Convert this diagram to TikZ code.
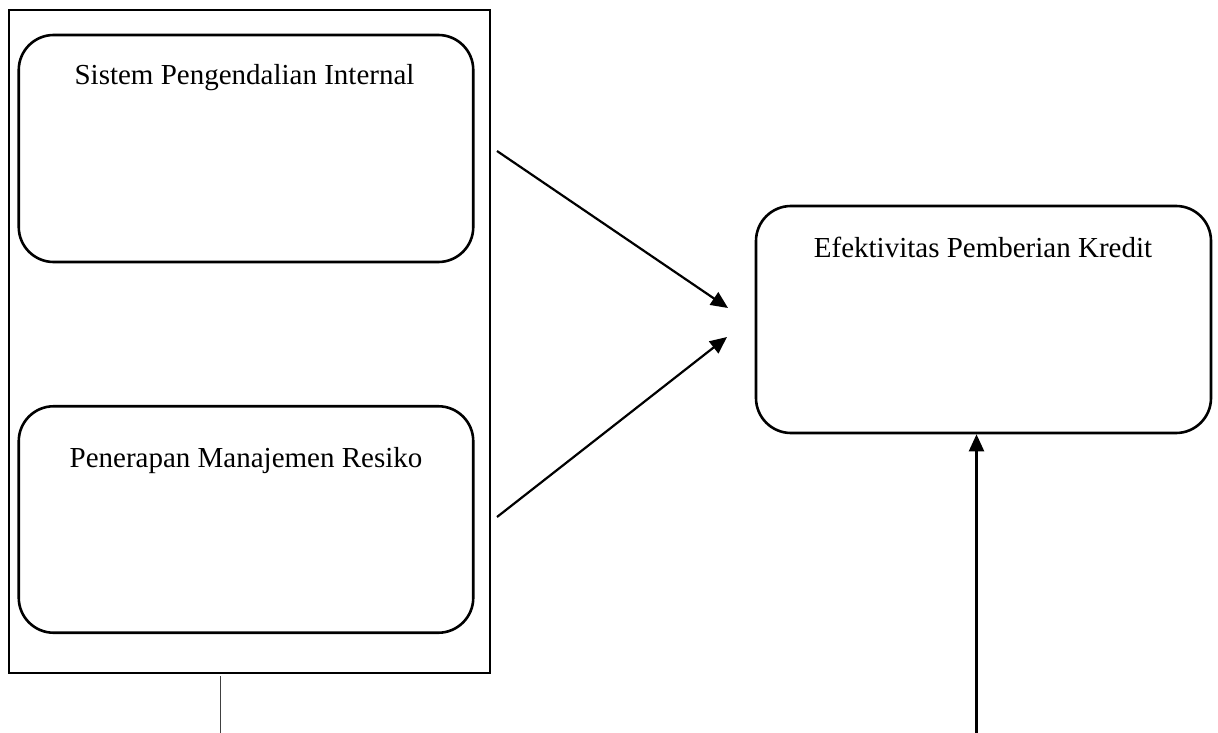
\documentclass[tikz,border=0pt]{standalone}
\usepackage{fontspec}
\setmainfont{Liberation Serif}
\usetikzlibrary{arrows.meta}
\begin{document}
\begin{tikzpicture}[x=1pt,y=-1pt,
  box/.style={draw,line width=2.6pt,rounded corners=35pt,inner sep=0pt},
  outerbox/.style={draw,line width=2.6pt,inner sep=0pt},
  lbl/.style={anchor=base,inner sep=0pt,font=\fontsize{29}{34}\selectfont},
  arr/.style={line width=2.2pt,-{Triangle[length=17pt,width=15pt]}},
  thin/.style={line width=1.4pt,draw=black!75}]
\useasboundingbox (0,0) rectangle (1218,733);
\node[outerbox,minimum width=481pt,minimum height=663pt] (outer) at (249.5,341.5) {};
\node[box,minimum width=454.5pt,minimum height=227pt] (b1) at (246,148.5) {};
\node[box,minimum width=454.5pt,minimum height=226.5pt] (b2) at (246,519.5) {};
\node[box,minimum width=455pt,minimum height=227pt] (rb) at (983.5,319.5) {};
\node[lbl] (t1) at (244.5,85) {Sistem Pengendalian Internal};
\node[lbl] (t2) at (246,467) {Penerapan Manajemen Resiko};
\node[lbl] (t3) at (983,257) {Efektivitas Pemberian Kredit};
\coordinate (a1s) at (497,151);
\coordinate (a1e) at (728,308);
\coordinate (a2s) at (497,517);
\coordinate (a2e) at (727,337);
\coordinate (a3s) at (976.5,733);
\coordinate (a3e) at (rb.south -| a3s);
\coordinate (ls) at (outer.south -| 220.5,0);
\coordinate (le) at (220.5,733);
\draw[arr] (a1s) -- (a1e);
\draw[arr] (a2s) -- (a2e);
\draw[arr] (a3s) -- (a3e);
\draw[thin] ([yshift=-2pt]ls) -- (le);
\end{tikzpicture}
\end{document}
